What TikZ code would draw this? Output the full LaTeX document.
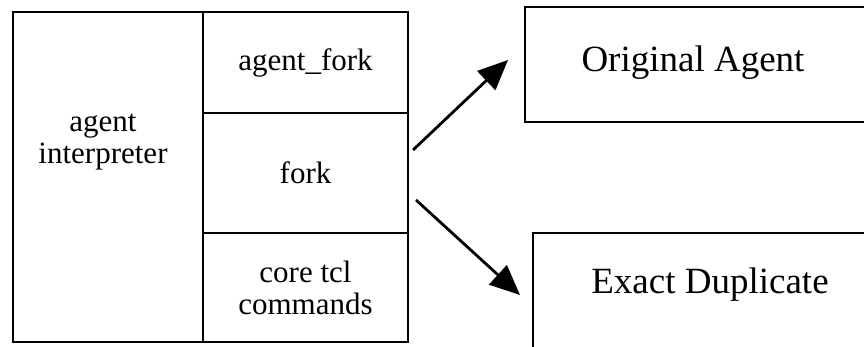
\documentclass[tikz,border=0pt]{standalone}
\usepackage{fontspec}
\setmainfont{Liberation Serif}
\usetikzlibrary{arrows.meta}
\tikzset{cell/.style={draw, line width=2.4pt, inner sep=0pt, align=center,
        font=\fontsize{31}{32}\selectfont},
    outbox/.style={draw, line width=2.4pt, inner sep=0pt},
    bigtext/.style={font=\fontsize{37}{38}\selectfont},
    forkarrow/.style={line width=2.8pt, -{Triangle[length=30pt,width=26pt]}}}
\begin{document}
\begin{tikzpicture}[x=1pt, y=-1pt]
    \useasboundingbox (0,0) rectangle (864,346);
    % the stack on the left
    \node[cell, minimum width=190pt, minimum height=330pt] (interp) at (108,177) {};
    \node[align=center, font=\fontsize{31}{32}\selectfont] (interptext) at (103,142) {agent\\interpreter};
    \node[cell, minimum width=205pt, minimum height=101pt] (afork) at (305.5,62.5) {agent\_fork};
    \node[cell, minimum width=205pt, minimum height=120pt] (fork) at (305.5,173) {fork};
    \node[cell, minimum width=205pt, minimum height=109pt] (core) at (305.5,287.5) {core tcl\\commands};
    % the two results
    \node[outbox, minimum width=375pt, minimum height=115pt] (orig) at (712.5,64.5) {};
    \node[bigtext] (origtext) at (693,63) {Original Agent};
    \node[outbox, minimum width=367pt, minimum height=167pt] (dup) at (716.5,316.5) {};
    \node[bigtext] (duptext) at (710,285) {Exact Duplicate};
    \coordinate (up) at (413,150);
    \coordinate (upend) at (508,60);
    \coordinate (down) at (416,200);
    \coordinate (downend) at (520,295);
    \draw[forkarrow] (up) -- (upend);
    \draw[forkarrow] (down) -- (downend);
\end{tikzpicture}
\end{document}
